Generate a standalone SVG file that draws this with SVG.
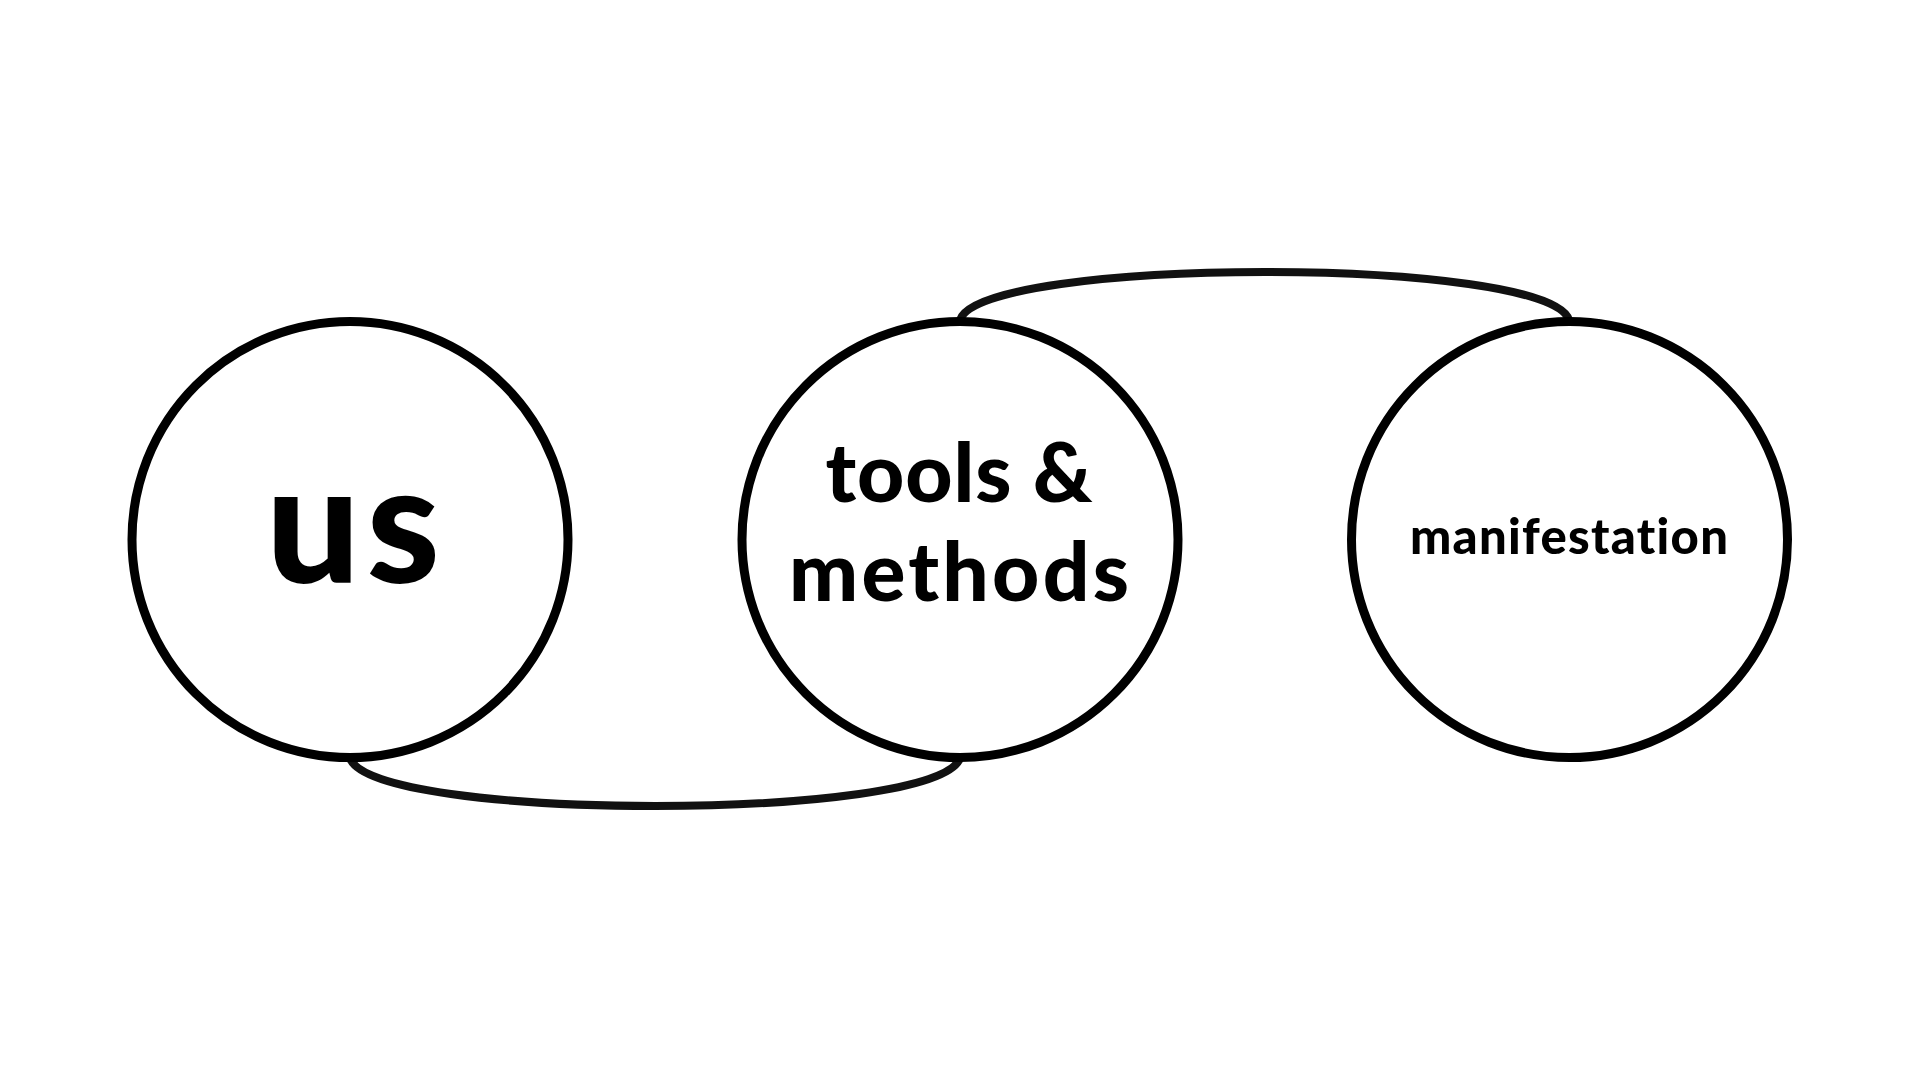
<svg xmlns="http://www.w3.org/2000/svg" width="1920" height="1080" viewBox="0 0 1920 1080">
<style>
.node{fill:#fff;stroke:#000;stroke-width:9}
.conn{fill:none;stroke:#111;stroke-width:8;stroke-linecap:round}
.lbl{font-family:Lato,"Open Sans","Liberation Sans",sans-serif;font-weight:900;fill:#000;text-anchor:middle;font-variant-ligatures:none}
</style>
<rect width="1920" height="1080" fill="#fff"/>
<g id="connectors">
<path class="conn" d="M350,758 C370,822 940,822 960,758"/>
<path class="conn" d="M960,320 C980,256 1550,256 1569,320"/>
</g>
<g id="node-us">
<circle class="node" cx="350" cy="539.5" r="218"/>
<text class="lbl" x="353" y="583" font-size="166" textLength="174" lengthAdjust="spacing">us</text>
</g>
<g id="node-tools">
<circle class="node" cx="960" cy="539.5" r="218"/>
<text class="lbl" x="959" y="502" font-size="82" textLength="267" lengthAdjust="spacing">tools &amp;</text>
<text class="lbl" x="959" y="601" font-size="82" textLength="340" lengthAdjust="spacing">methods</text>
</g>
<g id="node-manifestation">
<circle class="node" cx="1569.5" cy="539.5" r="218"/>
<text class="lbl" x="1569" y="554" font-size="49" textLength="318" lengthAdjust="spacing">manifestation</text>
</g>
</svg>
